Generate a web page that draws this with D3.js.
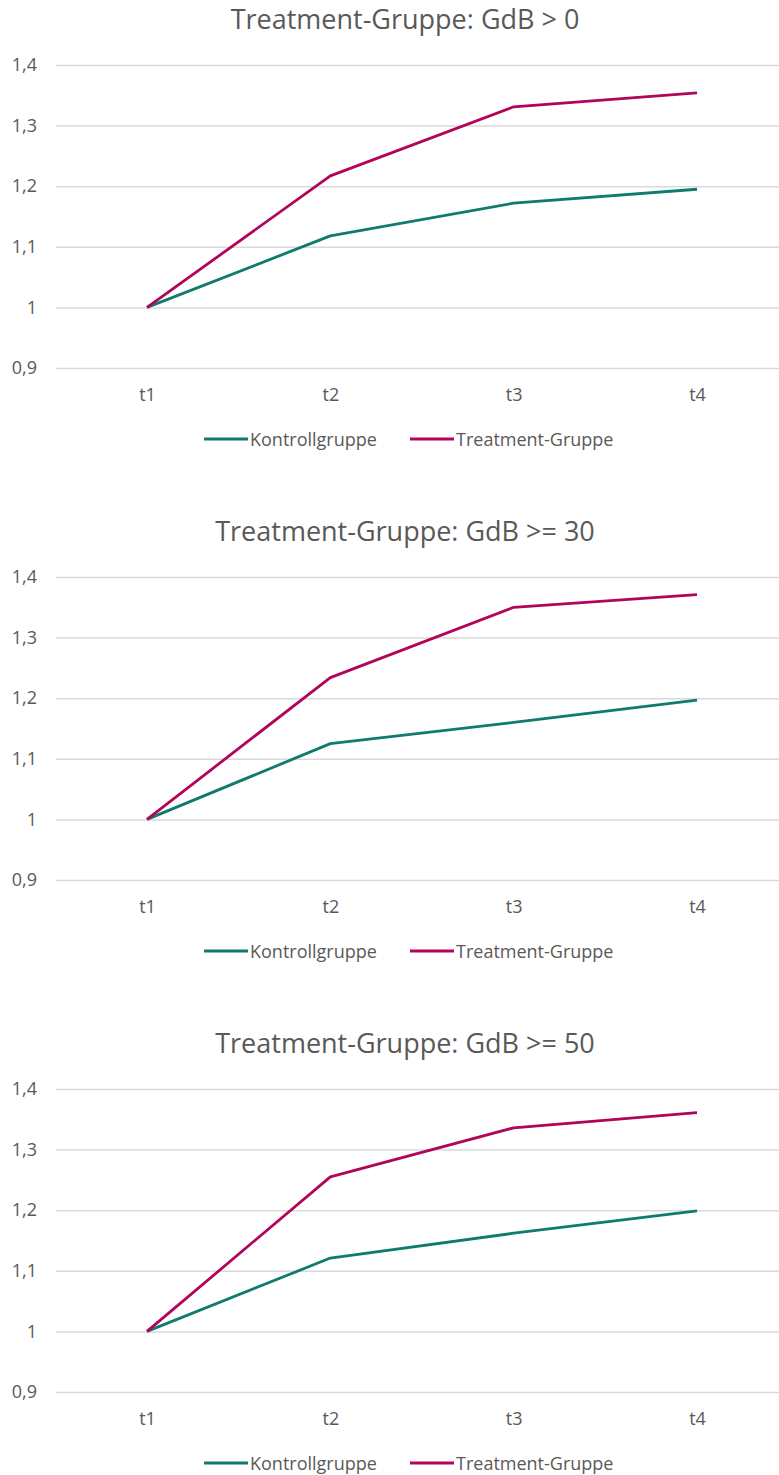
<!DOCTYPE html>
<html>
<head>
<meta charset="utf-8">
<script src="https://cdn.jsdelivr.net/npm/d3@7"></script>
<style>
  html, body { margin: 0; padding: 0; background: #fff; }
  svg { display: block; font-family: "Open Sans", "Noto Sans", sans-serif; }
</style>
</head>
<body>
<svg id="chart" width="779" height="1475"></svg>
<script>
// Zeitpunkte und Achsenbeschriftung
const periods = ["t1", "t2", "t3", "t4"];
const yTicks = [0.9, 1.0, 1.1, 1.2, 1.3, 1.4];
const seriesNames = ["Kontrollgruppe", "Treatment-Gruppe"];

// Titel der drei Diagramme
const titles = [
  "Treatment-Gruppe: GdB > 0",
  "Treatment-Gruppe: GdB >= 30",
  "Treatment-Gruppe: GdB >= 50"
];

// Indexwerte (t1 = 1)
const kontrollGdB0  = [1, 1.118, 1.172, 1.195];
const treatmentGdB0 = [1, 1.217, 1.331, 1.354];
const kontrollGdB30  = [1, 1.125, 1.160, 1.197];
const treatmentGdB30 = [1, 1.234, 1.350, 1.371];
const kontrollGdB50  = [1, 1.121, 1.162, 1.199];
const treatmentGdB50 = [1, 1.255, 1.336, 1.361];

const panelData = [
  [kontrollGdB0, treatmentGdB0],
  [kontrollGdB30, treatmentGdB30],
  [kontrollGdB50, treatmentGdB50]
];

const colors = ["#0f7b6c", "#b1045a"];
const textColor = "#595959";
const gridColor = "#d9d9d9";

const svg = d3.select("#chart");
const panelHeight = 512;
const plotLeft = 56, plotRight = 779;
const plotTop = 65, plotBottom = 368;

const x = d3.scalePoint().domain(periods).range([147, 697]);
const y = d3.scaleLinear().domain([0.9, 1.4]).range([plotBottom, plotTop]);
const fmt = v => d3.format(".1f")(v).replace(".0", "").replace(".", ",");

panelData.forEach((series, i) => {
  const g = svg.append("g").attr("transform", `translate(0,${i * panelHeight})`);

  // Titel
  g.append("text")
    .attr("x", 405).attr("y", 29)
    .attr("text-anchor", "middle")
    .attr("font-size", 27)
    .attr("fill", textColor)
    .text(titles[i]);

  // Gitterlinien + y-Achse
  const yAxis = d3.axisLeft(y).tickValues(yTicks).tickFormat(fmt)
    .tickSize(-(plotRight - plotLeft)).tickPadding(19);
  const ya = g.append("g").attr("transform", `translate(${plotLeft},0)`).call(yAxis);
  ya.select(".domain").remove();
  ya.selectAll(".tick line").attr("stroke", gridColor).attr("stroke-width", 1.5);
  ya.selectAll(".tick text").attr("fill", textColor).attr("font-size", 18)
    .attr("font-family", "'Open Sans', sans-serif");

  // x-Achse (nur Beschriftung)
  const xAxis = d3.axisBottom(x).tickSize(0).tickPadding(20);
  const xa = g.append("g").attr("transform", `translate(0,${plotBottom})`).call(xAxis);
  xa.select(".domain").remove();
  xa.selectAll(".tick text").attr("fill", textColor).attr("font-size", 18)
    .attr("font-family", "'Open Sans', sans-serif");

  // Linien
  const line = d3.line().x((d, j) => x(periods[j])).y(d => y(d));
  series.forEach((vals, s) => {
    g.append("path")
      .datum(vals)
      .attr("d", line)
      .attr("fill", "none")
      .attr("stroke", colors[s])
      .attr("stroke-width", 2.8)
      .attr("stroke-linejoin", "round");
  });

  // Legende
  const legendItems = [{x: 204, name: seriesNames[0], c: colors[0]},
                       {x: 410, name: seriesNames[1], c: colors[1]}];
  legendItems.forEach(it => {
    g.append("line")
      .attr("x1", it.x).attr("x2", it.x + 44)
      .attr("y1", 439).attr("y2", 439)
      .attr("stroke", it.c).attr("stroke-width", 2.8);
    g.append("text")
      .attr("x", it.x + 46).attr("y", 445.5)
      .attr("font-size", 18)
      .attr("fill", textColor)
      .text(it.name);
  });
});
</script>
</body>
</html>
